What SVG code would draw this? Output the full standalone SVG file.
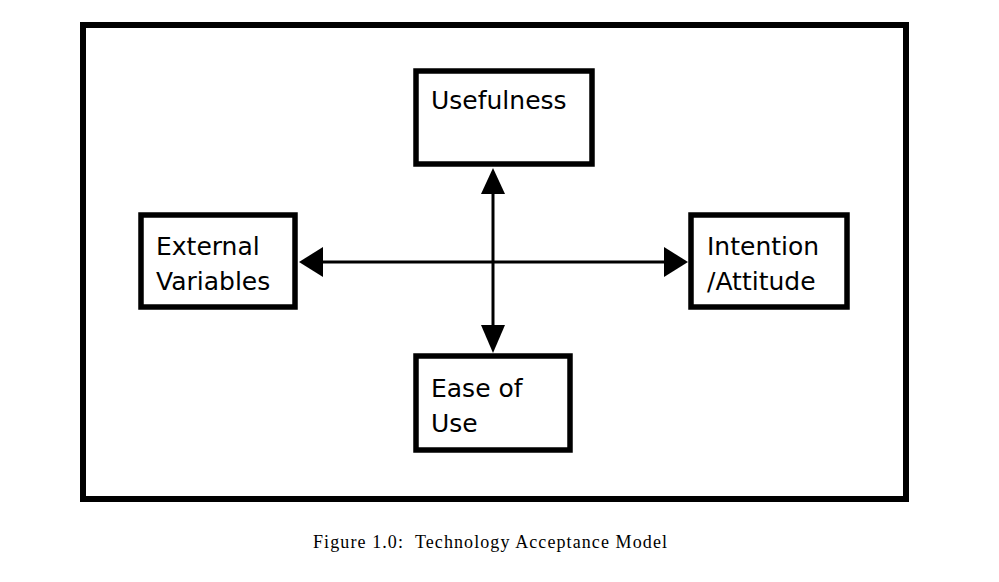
<svg xmlns="http://www.w3.org/2000/svg" width="999" height="582" viewBox="0 0 999 582">
<style>
.box{fill:#fff;stroke:#000;stroke-width:5.5}
.lbl{font-family:"DejaVu Sans",Verdana,sans-serif;font-size:25px;fill:#000}
.conn{stroke:#000;stroke-width:3;fill:none}
.head{fill:#000}
.cap{font-family:"Liberation Serif","Times New Roman",serif;font-size:18px;fill:#000;white-space:pre}
</style>
<rect width="999" height="582" fill="#fff"/>
<rect x="83" y="25" width="823" height="474" fill="none" stroke="#000" stroke-width="6"/>
<g id="connectors">
<line class="conn" x1="322" y1="262" x2="666" y2="262"/>
<path class="head" d="M299,262 L323,247 L323,277 Z"/>
<path class="head" d="M688,262 L664,247 L664,277 Z"/>
<line class="conn" x1="493" y1="192" x2="493" y2="328"/>
<path class="head" d="M493,168 L481,194 L505,194 Z"/>
<path class="head" d="M493,353 L481,325 L505,325 Z"/>
</g>
<g id="usefulness">
<rect class="box" x="416" y="71" width="176" height="93"/>
<text class="lbl" x="431" y="109">Usefulness</text>
</g>
<g id="external">
<rect class="box" x="141" y="215" width="154" height="92"/>
<text class="lbl" x="156" y="255">External</text>
<text class="lbl" x="156" y="290">Variables</text>
</g>
<g id="intention">
<rect class="box" x="691" y="215" width="156" height="92"/>
<text class="lbl" x="707" y="255">Intention</text>
<text class="lbl" x="707" y="290">/Attitude</text>
</g>
<g id="ease">
<rect class="box" x="416" y="356" width="154" height="94"/>
<text class="lbl" x="431" y="397">Ease of</text>
<text class="lbl" x="431" y="432">Use</text>
</g>
<text class="cap" x="313" y="548" textLength="354" lengthAdjust="spacing">Figure 1.0:  Technology Acceptance Model</text>
</svg>
